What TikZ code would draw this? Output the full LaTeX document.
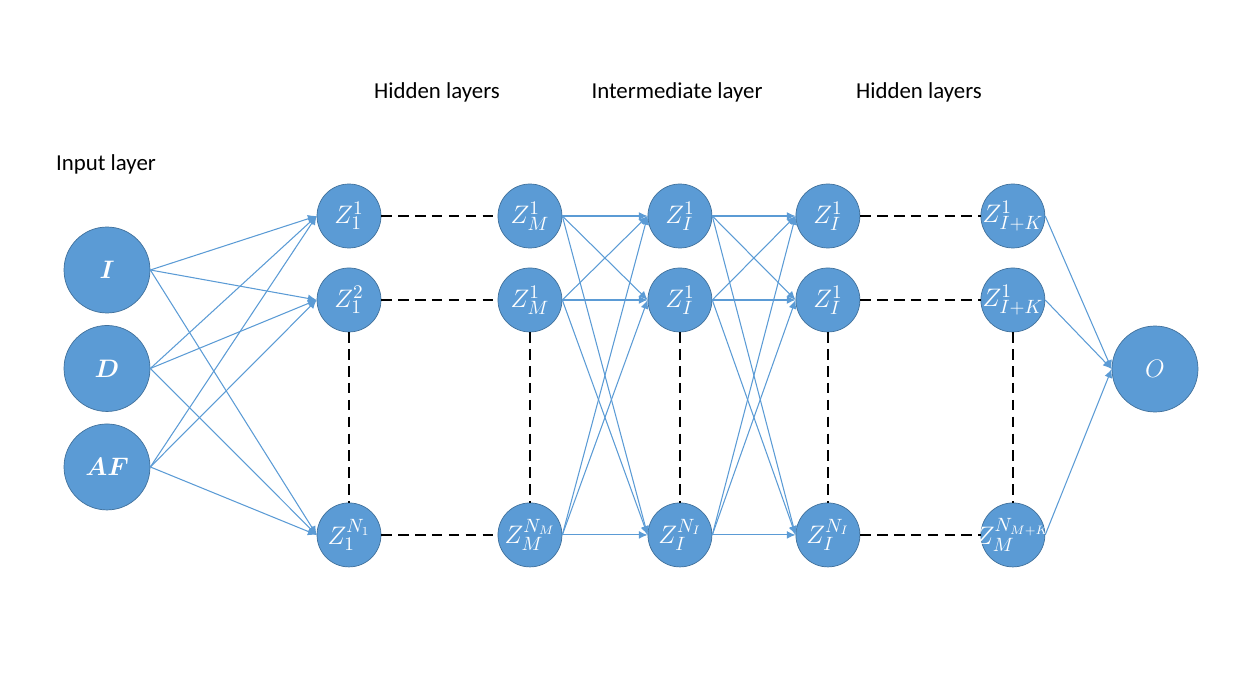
\documentclass[tikz,border=0pt]{standalone}
\usepackage{fontspec}
\setmainfont{Carlito}
\usepackage{bm}
\usetikzlibrary{shapes, arrows, arrows.meta}
\definecolor{nodeblue}{HTML}{5B9BD5}
\definecolor{nodeedge}{HTML}{41719C}
\newcommand\widelabel[1]{\makebox[0pt]{#1}}
\tikzstyle{inputnode} = [draw=nodeedge, fill=nodeblue, circle, inner sep=0,
minimum size=1.72cm, text=white, font=\fontsize{15}{17}\selectfont]
\tikzstyle{hidden} = [draw=nodeedge, fill=nodeblue, circle, inner sep=0,
minimum size=1.28cm, text=white, font=\fontsize{15}{17}\selectfont]
\tikzstyle{link} = [->, draw=nodeblue, line width=0.6pt]
\tikzstyle{gap} = [draw=black, line width=1.3pt, dash pattern=on 6pt off 3.6pt]
\tikzstyle{heading} = [font=\fontsize{13}{15}\selectfont]

\begin{document}
\begin{tikzpicture}[x=0.02cm, y=-0.02cm, >={Latex[length=5pt, width=4.5pt]}]
    \useasboundingbox (0,0) rectangle (1240,685);
    % layer titles
    \node [heading] (inTitle) at (106,164) {Input layer};
    \node [heading] (hidTitleA) at (437,92) {Hidden layers};
    \node [heading] (midTitle) at (677,92) {Intermediate layer};
    \node [heading] (hidTitleB) at (919,92) {Hidden layers};

    % inputs
    \node [inputnode] (I) at (107,270) {$\bm{I}$};
    \node [inputnode, below of=I, node distance=1.97cm] (D) {$\bm{D}$};
    \node [inputnode, below of=D, node distance=1.97cm] (AF) {$\bm{AF}$};

    % first hidden layer
    \node [hidden] (h1a) at (349,216) {$Z_1^1$};
    \node [hidden, below of=h1a, node distance=1.68cm] (h1b) {$Z_1^2$};
    \node [hidden, below of=h1b, node distance=4.7cm] (h1c) {$Z_1^{N_1}$};
    % last hidden layer before intermediate
    \node [hidden, right of=h1a, node distance=3.62cm] (h2a) {$Z_M^1$};
    \node [hidden, right of=h1b, node distance=3.62cm] (h2b) {$Z_M^1$};
    \node [hidden, right of=h1c, node distance=3.62cm] (h2c) {$Z_M^{N_M}$};
    % intermediate layer
    \node [hidden, right of=h2a, node distance=3cm] (mida) {$Z_I^1$};
    \node [hidden, right of=h2b, node distance=3cm] (midb) {$Z_I^1$};
    \node [hidden, right of=h2c, node distance=3cm] (midc) {$Z_I^{N_I}$};
    % second hidden block
    \node [hidden, right of=mida, node distance=2.96cm] (h3a) {$Z_I^1$};
    \node [hidden, right of=midb, node distance=2.96cm] (h3b) {$Z_I^1$};
    \node [hidden, right of=midc, node distance=2.96cm] (h3c) {$Z_I^{N_I}$};
    \node [hidden, right of=h3a, node distance=3.7cm] (h4a) {\widelabel{$Z_{I+K}^1$}};
    \node [hidden, right of=h3b, node distance=3.7cm] (h4b) {\widelabel{$Z_{I+K}^1$}};
    \node [hidden, right of=h3c, node distance=3.7cm] (h4c) {\widelabel{$Z_M^{N_{M+K}}$}};

    % output
    \node [inputnode] (O) at (1155,369) {$O$};

    % dashed gaps inside the hidden blocks
    \foreach \a/\b in {h1a/h2a, h1b/h2b, h1c/h2c, h3a/h4a, h3b/h4b, h3c/h4c}
        \draw [gap] (\a.east) -- (\b.west);
    \foreach \a/\b in {h1b/h1c, h2b/h2c, midb/midc, h3b/h3c, h4b/h4c}
        \draw [gap] (\a.south) -- (\b.north);

    % full connections
    \foreach \s in {I, D, AF}
        \foreach \t in {h1a, h1b, h1c}
            \draw [link] (\s.east) -- (\t.west);
    \foreach \s in {h2a, h2b, h2c}
        \foreach \t in {mida, midb, midc}
            \draw [link] (\s.east) -- (\t.west);
    \foreach \s in {mida, midb, midc}
        \foreach \t in {h3a, h3b, h3c}
            \draw [link] (\s.east) -- (\t.west);
    \foreach \s in {h4a, h4b, h4c}
        \draw [link] (\s.east) -- (O.west);
\end{tikzpicture}
\end{document}
